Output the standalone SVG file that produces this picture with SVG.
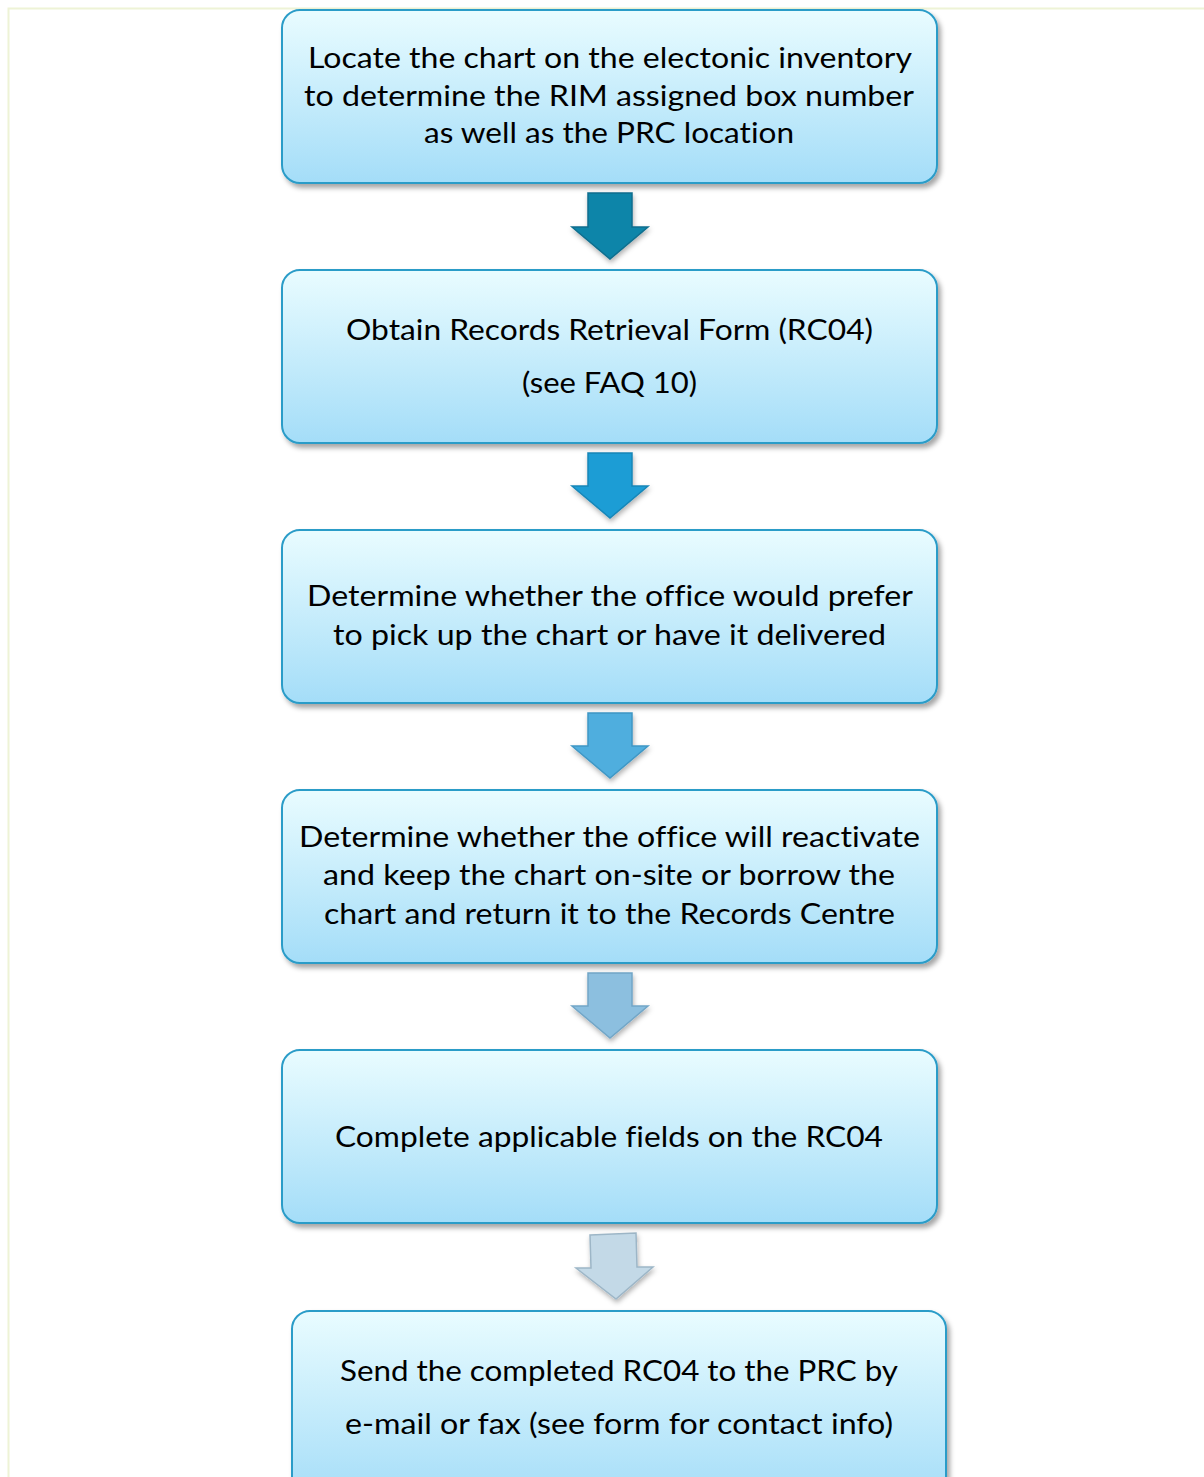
<svg xmlns="http://www.w3.org/2000/svg" width="1204" height="1477" viewBox="0 0 1204 1477">
<defs>
<linearGradient id="boxg" x1="0" y1="0" x2="0" y2="1">
<stop offset="0" stop-color="#E9FCFF"/>
<stop offset="1" stop-color="#A4DDF8"/>
</linearGradient>
<filter id="sh" x="-10%" y="-10%" width="120%" height="130%">
<feDropShadow dx="3" dy="4" stdDeviation="2.5" flood-color="#000" flood-opacity="0.35"/>
</filter>
<filter id="ash" x="-30%" y="-30%" width="160%" height="160%">
<feDropShadow dx="1" dy="3" stdDeviation="2.5" flood-color="#000" flood-opacity="0.3"/>
</filter>
</defs>
<style>
.box{fill:url(#boxg);stroke:#2A9CC8;stroke-width:2;filter:url(#sh)}
.t{font-family:Lato,"Liberation Sans",Arial,sans-serif;font-size:28px;fill:#000;text-anchor:middle;font-variant-ligatures:none;font-feature-settings:"liga" 0,"clig" 0}
.arr{stroke-width:1.5;stroke-linejoin:miter;filter:url(#ash)}
</style>
<rect width="1204" height="1477" fill="#fff"/>
<path d="M8.5 1477 V8.5 H1204" fill="none" stroke="#EEF3D6" stroke-width="2"/>

<g id="connectors">
<polygon class="arr" fill="#0B85A9" stroke="#0A6E8E" points="588,193 632,193 632,227 648,227 610,259 572,227 588,227"/>
<polygon class="arr" fill="#1B9DD5" stroke="#1786B8" points="588,453 632,453 632,486 648,486 610,518 572,486 588,486"/>
<polygon class="arr" fill="#50AEDE" stroke="#3F97C5" points="588,713 632,713 632,746 648,746 610,778 572,746 588,746"/>
<polygon class="arr" fill="#8CBFDF" stroke="#72A6C7" points="588,973 632,973 632,1006 648,1006 610,1038 572,1006 588,1006"/>
<polygon class="arr" fill="#C3D9E7" stroke="#9DB6C7" points="590,1235 636,1233 637,1267 653,1267 616,1299 576,1268 591,1268"/>
</g>

<g id="node1">
<rect class="box" x="282" y="10" width="655" height="173" rx="18"/>
<text class="t" x="610" y="68" textLength="604" lengthAdjust="spacingAndGlyphs">Locate the chart on the electonic inventory</text>
<text class="t" x="609" y="106" textLength="610" lengthAdjust="spacingAndGlyphs">to determine the RIM assigned box number</text>
<text class="t" x="609" y="143" textLength="370" lengthAdjust="spacingAndGlyphs">as well as the PRC location</text>
</g>

<g id="node2">
<rect class="box" x="282" y="270" width="655" height="173" rx="18"/>
<text class="t" x="609.5" y="340" textLength="527" lengthAdjust="spacingAndGlyphs">Obtain Records Retrieval Form (RC04)</text>
<text class="t" x="609.5" y="393" textLength="175" lengthAdjust="spacingAndGlyphs">(see FAQ 10)</text>
</g>

<g id="node3">
<rect class="box" x="282" y="530" width="655" height="173" rx="18"/>
<text class="t" x="610" y="606" textLength="606" lengthAdjust="spacingAndGlyphs">Determine whether the office would prefer</text>
<text class="t" x="609.5" y="645" textLength="553" lengthAdjust="spacingAndGlyphs">to pick up the chart or have it delivered</text>
</g>

<g id="node4">
<rect class="box" x="282" y="790" width="655" height="173" rx="18"/>
<text class="t" x="609.5" y="847" textLength="621" lengthAdjust="spacingAndGlyphs">Determine whether the office will reactivate</text>
<text class="t" x="609" y="885" textLength="572" lengthAdjust="spacingAndGlyphs">and keep the chart on-site or borrow the</text>
<text class="t" x="609.5" y="924" textLength="571" lengthAdjust="spacingAndGlyphs">chart and return it to the Records Centre</text>
</g>

<g id="node5">
<rect class="box" x="282" y="1050" width="655" height="173" rx="18"/>
<text class="t" x="609" y="1147" textLength="548" lengthAdjust="spacingAndGlyphs">Complete applicable fields on the RC04</text>
</g>

<g id="node6">
<rect class="box" x="292" y="1311" width="654" height="190" rx="18"/>
<text class="t" x="619" y="1381" textLength="558" lengthAdjust="spacingAndGlyphs">Send the completed RC04 to the PRC by</text>
<text class="t" x="619" y="1434" textLength="548" lengthAdjust="spacingAndGlyphs">e-mail or fax (see form for contact info)</text>
</g>
</svg>
